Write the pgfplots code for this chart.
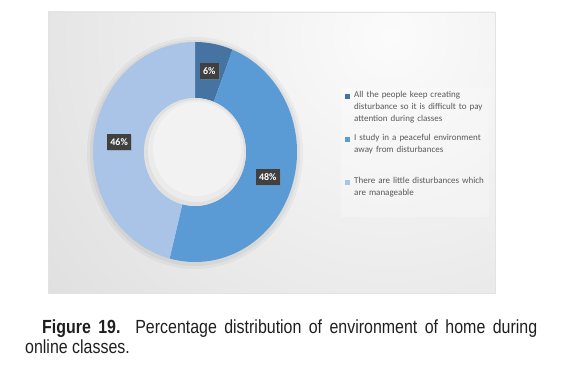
\documentclass[border=0pt]{standalone}
\usepackage{fontspec}
\setmainfont{Carlito}
\newfontfamily\capfont[FakeStretch=0.84]{Liberation Sans}
\usepackage{pgfplots}
\pgfplotsset{compat=1.18}
\usepackage{pgfplotstable}
\usetikzlibrary{calc,shadows}
\definecolor{sA}{HTML}{4574A3}
\definecolor{sB}{HTML}{5B9BD5}
\definecolor{sC}{HTML}{A9C4E7}
\definecolor{lbl}{HTML}{404040}
\definecolor{legtxt}{HTML}{595959}
\pgfplotstableread{
label value
A 6
B 48
C 46
}\donutdata
\begin{document}
\hyphenpenalty=10000
\exhyphenpenalty=10000
\begin{tikzpicture}
\useasboundingbox (0,0) rectangle (561pt,366pt);
\pgfplotstablegetelem{0}{value}\of\donutdata \pgfmathsetmacro\va{\pgfplotsretval}
\pgfplotstablegetelem{1}{value}\of\donutdata \pgfmathsetmacro\vb{\pgfplotsretval}
\pgfplotstablegetelem{2}{value}\of\donutdata \pgfmathsetmacro\vc{\pgfplotsretval}
\pgfmathtruncatemacro\ia{\va}
\pgfmathtruncatemacro\ib{\vb}
\pgfmathtruncatemacro\ic{\vc}
\pgfmathsetmacro\aA{90}
\pgfmathsetmacro\aB{\aA-3.6*\va}
\pgfmathsetmacro\aC{\aB-3.6*\vb}
\pgfmathsetmacro\aD{\aC-3.6*\vc}
\pgfmathsetmacro\mA{(\aA+\aB)/2}
\pgfmathsetmacro\mB{(\aB+\aC)/2}
\pgfmathsetmacro\mC{(\aC+\aD)/2}
\begin{axis}[at={(0,0)}, anchor=south west, scale only axis, width=561pt, height=366pt,
  xmin=0, xmax=561, ymin=0, ymax=366, hide axis, clip=false]
% background panel
\fill[gray!30] (axis cs:48,73) rectangle (axis cs:495,354);
\begin{scope}
\clip (axis cs:48,73) rectangle (axis cs:495,354);
\shade[inner color=white!97!gray, outer color=gray!38] (axis cs:390,330) circle (700pt);
\end{scope}
\draw[gray!22, line width=0.6pt] (axis cs:48,73) rectangle (axis cs:495,354);
% legend box
\fill[white, opacity=0.25] (axis cs:341,149) rectangle (axis cs:489,278);
% donut halo
\fill[black, opacity=0.035] (axis cs:195,213) ellipse[x radius=108pt, y radius=116pt];
\fill[black, opacity=0.045] (axis cs:195,213) ellipse[x radius=105pt, y radius=113pt];
% slices
\fill[sA] ($(axis cs:195,214)+(\aA:102pt and 110pt)$) arc[start angle=\aA, end angle=\aB, x radius=102pt, y radius=110pt]
  -- ($(axis cs:195,214)+(\aB:51pt and 54pt)$) arc[start angle=\aB, end angle=\aA, x radius=51pt, y radius=54pt] -- cycle;
\fill[sB] ($(axis cs:195,214)+(\aB:102pt and 110pt)$) arc[start angle=\aB, end angle=\aC, x radius=102pt, y radius=110pt]
  -- ($(axis cs:195,214)+(\aC:51pt and 54pt)$) arc[start angle=\aC, end angle=\aB, x radius=51pt, y radius=54pt] -- cycle;
\fill[sC] ($(axis cs:195,214)+(\aC:102pt and 110pt)$) arc[start angle=\aC, end angle=\aD, x radius=102pt, y radius=110pt]
  -- ($(axis cs:195,214)+(\aD:51pt and 54pt)$) arc[start angle=\aD, end angle=\aC, x radius=51pt, y radius=54pt] -- cycle;
% hole
\fill[gray!24] (axis cs:195,214) ellipse[x radius=51pt, y radius=54pt];
\fill[gray!16] (axis cs:196,215) ellipse[x radius=48pt, y radius=51pt];
\fill[gray!10] (axis cs:197,217) ellipse[x radius=44pt, y radius=47pt];
% data labels
\tikzset{dl/.style={fill=lbl, text=white, font=\fontsize{10}{10}\selectfont\bfseries,
  inner xsep=3.2pt, inner ysep=4.5pt,
  drop shadow={shadow xshift=1pt, shadow yshift=-1pt, opacity=0.35}}}
\node[dl] at ($(axis cs:195,214)+(\mA:76.5pt and 82pt)$) {\ia\%};
\node[dl] at ($(axis cs:195,214)+(\mB:76.5pt and 82pt)$) {\ib\%};
\node[dl] at ($(axis cs:195,214)+(\mC:76.5pt and 82pt)$) {\ic\%};
% legend
\fill[sA] (axis cs:345,266.5) rectangle (axis cs:350,271.5);
\fill[sB] (axis cs:345,223.5) rectangle (axis cs:350,228.5);
\fill[sC] (axis cs:345,180.5) rectangle (axis cs:350,185.5);
\node[anchor=north west, text width=134pt, align=left, inner sep=0pt, text=legtxt,
  font=\fontsize{9}{12}\selectfont] at (axis cs:354,275)
  {All the people keep creating disturbance so it is difficult to pay attention during classes};
\node[anchor=north west, text width=134pt, align=left, inner sep=0pt, text=legtxt,
  font=\fontsize{9}{12}\selectfont] at (axis cs:354,232)
  {I study in a peaceful environment away from disturbances};
\node[anchor=north west, text width=134pt, align=left, inner sep=0pt, text=legtxt,
  font=\fontsize{9}{12}\selectfont] at (axis cs:354,189)
  {There are little disturbances which are manageable};
% caption
\node[anchor=north west, text width=512pt, align=justify, inner sep=0pt, text=black!88,
  font=\capfont\fontsize{19}{19.5}\selectfont] at (axis cs:25,46)
  {\hspace*{17pt}\textbf{Figure 19.} Percentage distribution of environment of home during online classes.};
\end{axis}
\end{tikzpicture}
\end{document}
